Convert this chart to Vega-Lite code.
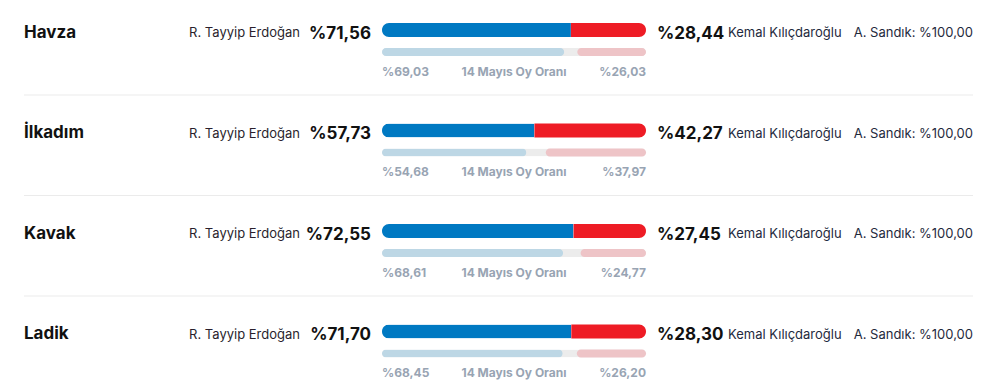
{
  "$schema": "https://vega.github.io/schema/vega-lite/v6.json",
  "width": 995,
  "height": 391,
  "autosize": {"type": "none"},
  "padding": 0,
  "background": "#ffffff",
  "config": {"view": {"stroke": null}, "font": "Inter"},
  "data": {
    "values": [
      {"district": "Havza", "erdogan": 71.56, "kilicdaroglu": 28.44, "erdogan14": 69.03, "kilicdaroglu14": 26.03, "sandik": 100.0},
      {"district": "İlkadım", "erdogan": 57.73, "kilicdaroglu": 42.27, "erdogan14": 54.68, "kilicdaroglu14": 37.97, "sandik": 100.0},
      {"district": "Kavak", "erdogan": 72.55, "kilicdaroglu": 27.45, "erdogan14": 68.61, "kilicdaroglu14": 24.77, "sandik": 100.0},
      {"district": "Ladik", "erdogan": 71.70, "kilicdaroglu": 28.30, "erdogan14": 68.45, "kilicdaroglu14": 26.20, "sandik": 100.0}
    ]
  },
  "transform": [
    {"calculate": "'%' + replace(format(datum.erdogan, '.2f'), '.', ',')", "as": "eLabel"},
    {"calculate": "'%' + replace(format(datum.kilicdaroglu, '.2f'), '.', ',')", "as": "kLabel"},
    {"calculate": "'%' + replace(format(datum.erdogan14, '.2f'), '.', ',')", "as": "e14Label"},
    {"calculate": "'%' + replace(format(datum.kilicdaroglu14, '.2f'), '.', ',')", "as": "k14Label"},
    {"calculate": "'A. Sandık: %' + replace(format(datum.sandik, '.2f'), '.', ',')", "as": "sLabel"},
    {"calculate": "datum.erdogan + datum.kilicdaroglu", "as": "total"},
    {"calculate": "datum.total - datum.kilicdaroglu14", "as": "k14Start"}
  ],
  "layer": [
    {
      "transform": [{"filter": "datum.district != 'Ladik'"}],
      "mark": {"type": "rule", "color": "#ebebeb", "strokeWidth": 1, "yOffset": 65},
      "encoding": {
        "y": {"field": "district", "type": "nominal", "sort": null, "axis": null, "scale": {"type": "point", "range": [30, 331.5], "padding": 0}},
        "x": {"value": 24},
        "x2": {"value": 973}
      }
    },
    {
      "mark": {"type": "bar", "height": 8, "yOffset": 22, "color": "#ececec", "cornerRadius": 4},
      "encoding": {
        "y": {"field": "district", "type": "nominal", "sort": null},
        "x": {"field": "total", "type": "quantitative", "axis": null, "scale": {"domain": [0, 100], "range": [382, 646]}}
      }
    },
    {
      "mark": {"type": "bar", "height": 8, "yOffset": 22, "color": "#bdd7e5", "cornerRadius": 4},
      "encoding": {
        "y": {"field": "district", "type": "nominal", "sort": null},
        "x": {"field": "erdogan14", "type": "quantitative"}
      }
    },
    {
      "mark": {"type": "bar", "height": 8, "yOffset": 22, "color": "#eec4c7", "cornerRadius": 4},
      "encoding": {
        "y": {"field": "district", "type": "nominal", "sort": null},
        "x": {"field": "k14Start", "type": "quantitative"},
        "x2": {"field": "total"}
      }
    },
    {
      "mark": {"type": "bar", "height": 14, "color": "#0079c2", "cornerRadiusTopLeft": 7, "cornerRadiusBottomLeft": 7},
      "encoding": {
        "y": {"field": "district", "type": "nominal", "sort": null},
        "x": {"field": "erdogan", "type": "quantitative"}
      }
    },
    {
      "mark": {"type": "bar", "height": 14, "color": "#ee1c25", "cornerRadiusTopRight": 7, "cornerRadiusBottomRight": 7},
      "encoding": {
        "y": {"field": "district", "type": "nominal", "sort": null},
        "x": {"field": "erdogan", "type": "quantitative"},
        "x2": {"field": "total"}
      }
    },
    {
      "mark": {"type": "text", "align": "left", "baseline": "middle", "fontSize": 17, "fontWeight": "bold", "color": "#111111", "yOffset": 2.5},
      "encoding": {"y": {"field": "district", "type": "nominal", "sort": null}, "x": {"value": 24}, "text": {"field": "district"}}
    },
    {
      "mark": {"type": "text", "align": "right", "baseline": "middle", "fontSize": 13, "color": "#2a1f2d", "yOffset": 3},
      "encoding": {"y": {"field": "district", "type": "nominal", "sort": null}, "x": {"value": 300}, "text": {"value": "R. Tayyip Erdoğan"}}
    },
    {
      "mark": {"type": "text", "align": "right", "baseline": "middle", "fontSize": 17, "fontWeight": "bold", "color": "#111111", "yOffset": 3.5},
      "encoding": {"y": {"field": "district", "type": "nominal", "sort": null}, "x": {"value": 371}, "text": {"field": "eLabel"}}
    },
    {
      "mark": {"type": "text", "align": "left", "baseline": "middle", "fontSize": 17, "fontWeight": "bold", "color": "#111111", "yOffset": 3.5},
      "encoding": {"y": {"field": "district", "type": "nominal", "sort": null}, "x": {"value": 657}, "text": {"field": "kLabel"}}
    },
    {
      "mark": {"type": "text", "align": "left", "baseline": "middle", "fontSize": 13, "color": "#1f2a3d", "yOffset": 3},
      "encoding": {"y": {"field": "district", "type": "nominal", "sort": null}, "x": {"value": 728}, "text": {"value": "Kemal Kılıçdaroğlu"}}
    },
    {
      "mark": {"type": "text", "align": "right", "baseline": "middle", "fontSize": 13, "color": "#1f2a3d", "yOffset": 3},
      "encoding": {"y": {"field": "district", "type": "nominal", "sort": null}, "x": {"value": 973}, "text": {"field": "sLabel"}}
    },
    {
      "mark": {"type": "text", "align": "left", "baseline": "middle", "fontSize": 12, "fontWeight": "bold", "color": "#98a4b3", "yOffset": 41.5},
      "encoding": {"y": {"field": "district", "type": "nominal", "sort": null}, "x": {"value": 382}, "text": {"field": "e14Label"}}
    },
    {
      "mark": {"type": "text", "align": "center", "baseline": "middle", "fontSize": 12, "fontWeight": "bold", "color": "#98a4b3", "yOffset": 41.5},
      "encoding": {"y": {"field": "district", "type": "nominal", "sort": null}, "x": {"value": 514}, "text": {"value": "14 Mayıs Oy Oranı"}}
    },
    {
      "mark": {"type": "text", "align": "right", "baseline": "middle", "fontSize": 12, "fontWeight": "bold", "color": "#98a4b3", "yOffset": 41.5},
      "encoding": {"y": {"field": "district", "type": "nominal", "sort": null}, "x": {"value": 646}, "text": {"field": "k14Label"}}
    }
  ]
}
